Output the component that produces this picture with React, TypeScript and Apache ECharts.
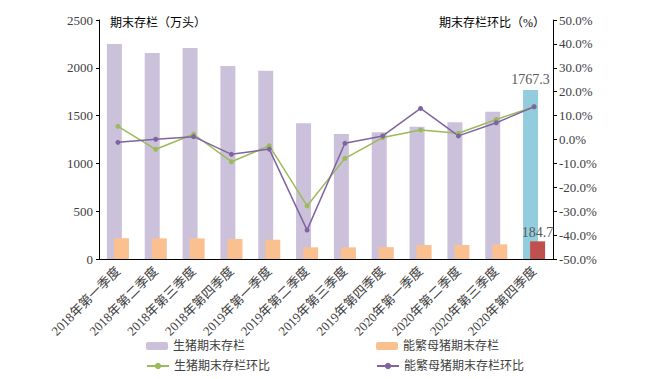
import React, { useEffect, useRef } from "react";
import * as echarts from "echarts";

const categories = [
  "2018年第一季度", "2018年第二季度", "2018年第三季度", "2018年第四季度",
  "2019年第一季度", "2019年第二季度", "2019年第三季度", "2019年第四季度",
  "2020年第一季度", "2020年第二季度", "2020年第三季度", "2020年第四季度",
];
const hogStock = [2249, 2155, 2207, 2019, 1970, 1419, 1307, 1325, 1384, 1430, 1541, 1767.3];
const sowStock = [216, 216, 216, 209, 202, 122, 122, 124, 146, 146, 153, 184.7];
const hogQoQ = [5.5, -4.1, 2.2, -9.3, -2.6, -27.8, -7.9, 0.8, 4.0, 2.6, 8.4, 13.7];
const sowQoQ = [-1.2, 0.1, 1.2, -6.2, -4.0, -37.9, -1.6, 1.5, 13.0, 1.5, 7.0, 13.7];

const FONT = "'Liberation Serif', 'Noto Sans CJK SC', serif";
const TXT = "#404040";

export default function App() {
  const ref = useRef<HTMLDivElement>(null);
  useEffect(() => {
    if (!ref.current) return;
    const chart = echarts.init(ref.current, undefined, { renderer: "svg" });
    const last = categories.length - 1;
    const hogData = hogStock.map((v, i) =>
      i === last
        ? {
            value: v,
            itemStyle: { color: "#93CDDD" },
            label: { show: true, position: "top", fontSize: 14, color: "#595959", fontFamily: FONT, distance: 4 },
          }
        : v
    );
    const sowData = sowStock.map((v, i) =>
      i === last
        ? {
            value: v,
            itemStyle: { color: "#C0504D" },
            label: { show: true, position: "top", fontSize: 14, color: "#595959", fontFamily: FONT, distance: 2 },
          }
        : v
    );
    const legendBase = {
      itemWidth: 22,
      itemHeight: 8,
      textStyle: { fontSize: 12, color: TXT, fontFamily: FONT },
    };
    chart.setOption({
      animation: false,
      grid: { left: 99, right: 97, top: 20, bottom: 120, containLabel: false },
      legend: [
        { ...legendBase, data: ["生猪期末存栏"], left: 141, top: 335 },
        { ...legendBase, data: ["能繁母猪期末存栏"], left: 371, top: 335 },
        { ...legendBase, data: ["生猪期末存栏环比"], left: 141, top: 355 },
        { ...legendBase, data: ["能繁母猪期末存栏环比"], left: 371, top: 355 },
      ],
      graphic: [
        {
          type: "text",
          left: 110,
          top: 17,
          style: { text: "期末存栏（万头）", fontSize: 12, fill: "#000", fontFamily: FONT },
        },
        {
          type: "text",
          right: 105,
          top: 17,
          style: { text: "期末存栏环比（%）", fontSize: 12, fill: "#000", fontFamily: FONT },
        },
      ],
      xAxis: {
        type: "category",
        data: categories,
        axisLine: { lineStyle: { color: "#000", width: 1 } },
        axisTick: { show: false },
        axisLabel: { rotate: 45, fontSize: 13, color: TXT, fontFamily: FONT, margin: 10, interval: 0 },
      },
      yAxis: [
        {
          type: "value",
          min: 0,
          max: 2500,
          interval: 500,
          splitLine: { show: false },
          axisLine: { show: true, lineStyle: { color: "#000" } },
          axisTick: { show: true, length: 3, lineStyle: { color: "#000" } },
          axisLabel: { fontSize: 13, color: TXT, fontFamily: FONT, margin: 6, formatter: (v: number) => String(v) },
        },
        {
          type: "value",
          min: -50,
          max: 50,
          interval: 10,
          splitLine: { show: false },
          axisLine: { show: true, lineStyle: { color: "#000" } },
          axisTick: { show: true, length: 4, lineStyle: { color: "#000" } },
          axisLabel: {
            fontSize: 13,
            color: TXT,
            fontFamily: FONT,
            margin: 6,
            formatter: (v: number) => v.toFixed(1) + "%",
          },
        },
      ],
      series: [
        {
          name: "生猪期末存栏",
          type: "bar",
          data: hogData,
          barWidth: 15,
          barGap: "-53%",
          itemStyle: { color: "#CCC1DA" },
          yAxisIndex: 0,
        },
        {
          name: "能繁母猪期末存栏",
          type: "bar",
          data: sowData,
          barWidth: 15,
          itemStyle: { color: "#FAC090" },
          yAxisIndex: 0,
        },
        {
          name: "生猪期末存栏环比",
          type: "line",
          data: hogQoQ,
          yAxisIndex: 1,
          symbol: "circle",
          symbolSize: 5,
          lineStyle: { color: "#9BBB59", width: 1.5 },
          itemStyle: { color: "#9BBB59" },
        },
        {
          name: "能繁母猪期末存栏环比",
          type: "line",
          data: sowQoQ,
          yAxisIndex: 1,
          symbol: "circle",
          symbolSize: 5,
          lineStyle: { color: "#8064A2", width: 1.5 },
          itemStyle: { color: "#8064A2" },
        },
      ],
    });
    return () => chart.dispose();
  }, []);
  return <div ref={ref} style={{ width: 650, height: 379, position: "absolute", left: 0, top: 0 }} />;
}
